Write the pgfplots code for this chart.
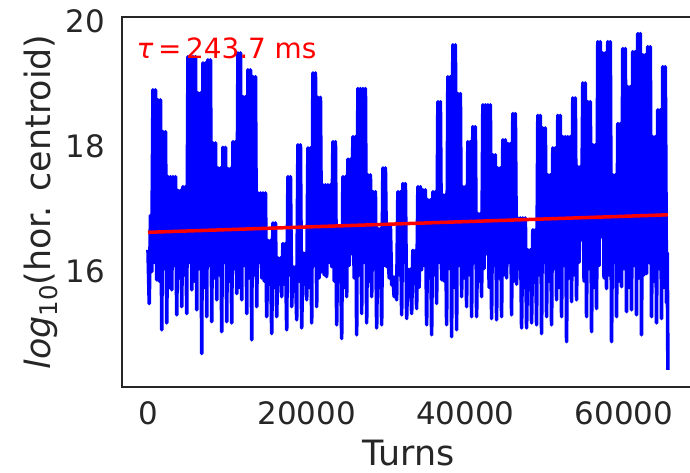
\documentclass[border=0pt]{standalone}
\usepackage{fontspec}
\setmainfont{DejaVu Sans}
\usepackage{pgfplots}
\usepackage{pgfplotstable}
\pgfplotsset{compat=1.18}
\definecolor{tc}{HTML}{262626}
\pgfplotstableread{
x y
0 16.35
157 15.49
315 16.90
472 16.00
630 18.91
787 16.15
945 18.91
1102 15.87
1260 18.75
1417 15.85
1575 18.75
1732 15.07
1890 18.24
2047 16.05
2205 18.24
2362 15.18
2520 17.52
2677 15.75
2835 17.52
2992 15.71
3150 17.52
3307 16.10
3465 17.52
3622 15.31
3780 17.30
3937 15.90
4095 17.30
4252 15.44
4410 17.36
4567 15.95
4725 17.36
4882 15.33
5040 19.44
5197 16.15
5355 19.44
5512 15.71
5670 19.44
5827 15.85
5985 19.44
6142 15.39
6300 18.86
6457 16.05
6615 18.86
6772 14.69
6930 19.34
7087 15.75
7245 19.34
7402 15.28
7560 19.39
7717 16.10
7875 19.39
8032 15.20
8190 18.06
8347 15.90
8505 18.06
8662 15.55
8820 17.66
8977 15.95
9135 17.66
9292 15.04
9450 17.99
9607 16.15
9765 17.99
9922 15.20
10080 17.65
10237 15.85
10395 17.65
10552 15.18
10710 18.08
10867 16.05
11025 18.08
11182 15.65
11340 19.50
11497 15.75
11655 19.50
11812 15.55
11970 18.80
12127 16.10
12285 18.80
12442 15.33
12600 19.23
12757 15.90
12915 19.23
13072 14.91
13230 19.12
13387 15.95
13545 19.12
13702 15.44
13860 17.26
14017 16.15
14175 17.26
14332 15.90
14490 17.26
14647 15.85
14805 17.26
14962 15.28
15120 16.50
15277 15.95
15435 16.50
15592 15.01
15750 16.78
15907 15.75
16065 16.78
16222 15.28
16380 16.22
16537 15.80
16695 16.22
16852 15.60
17010 16.45
17167 15.90
17325 16.45
17482 15.07
17640 17.52
17797 15.95
17955 17.52
18112 15.44
18270 16.08
18427 15.70
18585 16.08
18742 15.23
18900 18.03
19057 15.85
19215 18.03
19372 15.10
19530 16.30
19687 15.80
19845 16.30
20002 15.55
20160 17.98
20317 15.75
20475 17.98
20632 15.18
20790 19.18
20947 16.10
21105 19.18
21262 15.44
21420 18.79
21577 15.90
21735 18.79
21892 16.00
22050 17.39
22207 15.95
22365 17.39
22522 15.92
22680 17.39
22837 16.15
22995 17.39
23152 16.08
23310 18.08
23467 15.85
23625 18.08
23782 15.15
23940 16.72
24097 16.05
24255 16.72
24412 14.93
24570 17.52
24727 15.75
24885 17.52
25042 15.60
25200 17.80
25357 16.10
25515 17.80
25672 16.29
25830 18.16
25987 15.90
26145 18.16
26302 14.99
26460 18.93
26617 15.95
26775 18.93
26932 15.33
27090 18.93
27247 16.15
27405 18.93
27562 15.18
27720 17.55
27877 15.85
28035 17.55
28192 15.60
28350 17.28
28507 16.05
28665 17.28
28822 15.10
28980 16.69
29137 15.75
29295 16.69
29452 15.15
29610 17.66
29767 16.10
29925 17.66
30082 16.08
30240 16.72
30397 15.90
30555 16.72
30712 15.79
30870 15.92
31027 15.60
31185 15.92
31342 15.55
31500 17.28
31657 15.95
31815 17.28
31972 15.31
32130 17.41
32287 16.15
32445 17.41
32602 15.25
32760 16.04
32917 15.60
33075 16.04
33232 15.33
33390 16.34
33547 15.90
33705 16.34
33862 15.41
34020 17.36
34177 15.75
34335 17.36
34492 16.03
34650 17.31
34807 16.10
34965 17.31
35122 15.15
35280 17.15
35437 15.90
35595 17.15
35752 14.99
35910 17.28
36067 15.95
36225 17.28
36382 15.49
36540 18.72
36697 16.15
36855 18.72
37012 15.87
37170 17.23
37327 15.85
37485 17.23
37642 15.15
37800 19.12
37957 16.05
38115 19.12
38272 14.96
38430 19.63
38587 15.75
38745 19.63
38902 15.07
39060 18.85
39217 16.10
39375 18.85
39532 15.60
39690 17.36
39847 15.90
40005 17.36
40162 15.44
40320 18.08
40477 15.95
40635 18.08
40792 15.28
40950 18.32
41107 16.15
41265 18.32
41422 15.28
41580 16.93
41737 15.85
41895 16.93
42052 15.60
42210 18.67
42367 16.05
42525 18.67
42682 16.29
42840 18.67
42997 15.75
43155 18.67
43312 15.25
43470 17.87
43627 16.10
43785 17.87
43942 15.23
44100 17.66
44257 15.90
44415 17.66
44572 15.28
44730 18.11
44887 15.95
45045 18.11
45202 15.90
45360 18.05
45517 16.15
45675 18.05
45832 15.31
45990 18.53
46147 15.85
46305 18.53
46462 15.80
46620 16.86
46777 16.05
46935 16.86
47092 15.10
47250 16.86
47407 15.75
47565 16.86
47722 15.10
47880 16.35
48037 15.90
48195 16.35
48352 15.18
48510 16.67
48667 15.90
48825 16.67
48982 15.15
49140 18.50
49297 15.95
49455 18.50
49612 15.01
49770 18.30
49927 16.15
50085 18.30
50242 15.28
50400 17.55
50557 15.85
50715 17.55
50872 15.15
51030 17.98
51187 16.05
51345 17.98
51502 15.55
51660 18.50
51817 15.75
51975 18.50
52132 15.28
52290 18.16
52447 16.10
52605 18.16
52762 14.88
52920 18.16
53077 15.90
53235 18.16
53392 15.52
53550 18.78
53707 15.95
53865 18.78
54022 15.55
54180 17.68
54337 16.15
54495 17.68
54652 16.51
54810 19.02
54967 15.85
55125 19.02
55282 15.28
55440 18.72
55597 16.05
55755 18.72
55912 15.04
56070 18.03
56227 15.75
56385 18.03
56542 15.41
56700 19.68
56857 16.10
57015 19.68
57172 16.56
57330 19.50
57487 15.90
57645 19.50
57802 15.73
57960 19.68
58117 15.95
58275 19.68
58432 14.88
58590 17.55
58747 16.15
58905 17.55
59062 15.28
59220 18.37
59377 15.85
59535 18.37
59692 15.76
59850 19.57
60007 16.05
60165 19.57
60322 15.36
60480 18.96
60637 15.75
60795 18.96
60952 15.39
61110 19.52
61267 16.10
61425 19.52
61582 15.31
61740 19.81
61897 15.90
62055 19.81
62212 14.99
62370 19.47
62527 15.95
62685 19.47
62842 15.97
63000 19.60
63157 16.15
63315 19.60
63472 15.28
63630 18.16
63787 15.85
63945 18.16
64102 15.18
64260 18.59
64417 16.05
64575 18.59
64732 15.25
64890 19.28
65047 15.75
65205 19.28
65362 15.50
65450 16.30
65536 14.43
}\centroid
\pgfplotstableread{
x y
0 16.63
65536 16.91
}\fit
\begin{document}
\begin{tikzpicture}
\begin{axis}[
  scale only axis, width=572.6bp, height=370bp,
  xmin=-3277, xmax=68900, ymin=14.155, ymax=20.075,
  axis line style={color=tc, line width=1.8bp},
  xtick={0,20000,40000,60000}, xticklabels={0,20000,40000,60000},
  ytick={16,18,20}, yticklabels={16,18,20},
  scaled x ticks=false,
  major tick length=0pt,
  tick style={draw=none},
  tick label style={font=\fontsize{31}{31}\selectfont, text=tc, inner sep=0pt},
  xticklabel style={anchor=north, yshift=-14.7bp},
  yticklabel style={anchor=east, xshift=-17bp},
  xlabel={Turns},
  ylabel={{\itshape log}\raisebox{-0.22em}{\fontsize{24.5}{24.5}\selectfont 10}(hor. centroid)},
  label style={font=\fontsize{35}{35}\selectfont, text=tc, inner sep=0pt},
  xlabel style={at={(rel axis cs:0.5,-0.2135)}, anchor=base},
  ylabel style={at={(rel axis cs:-0.1257,0.5)}, anchor=base},
  clip mode=individual,
]
\addplot[blue, line width=3.6bp, line join=round] table[x=x,y=y] {\centroid};
\addplot[red, line width=3.5bp] table[x=x,y=y] {\fit};
\node[anchor=base west, inner sep=0pt, text=red, font=\fontsize{28}{28}\selectfont] at (axis cs:-1463,19.41) {{\itshape τ}\,=\,243.7 ms};
\coordinate (sw) at (rel axis cs:0,0);
\end{axis}
\pgfresetboundingbox
\path[use as bounding box] ([shift={(-122bp,-86bp)}]sw) rectangle ([shift={(568bp,387bp)}]sw);
\end{tikzpicture}
\end{document}
